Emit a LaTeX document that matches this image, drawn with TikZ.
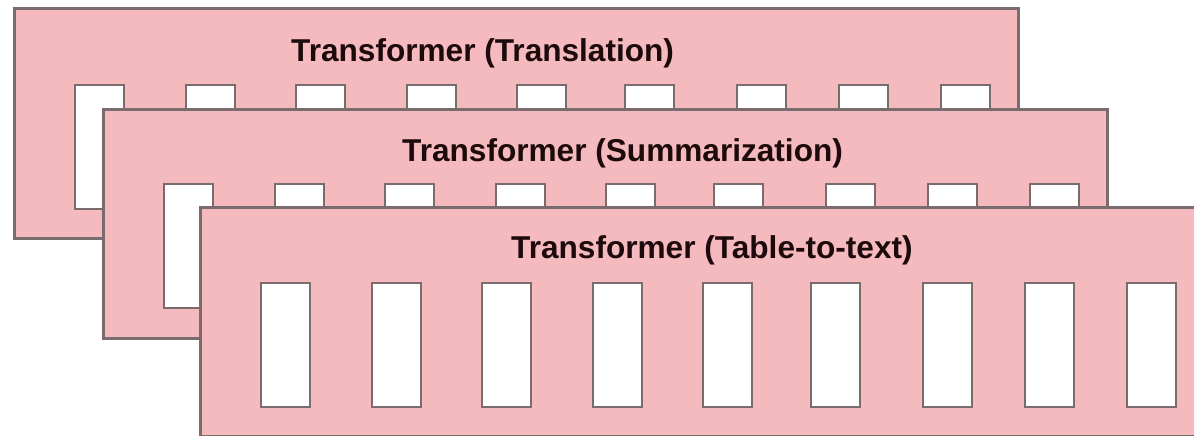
\documentclass[tikz,border=0pt]{standalone}
\usepackage{fontspec}
\setmainfont{Liberation Sans}
\definecolor{panelpink}{RGB}{245,186,189}
\definecolor{edgegray}{RGB}{122,108,110}
\definecolor{inkdark}{RGB}{28,10,12}
\begin{document}
\begin{tikzpicture}[x=1pt,y=-1pt,
  panel/.style={draw=edgegray, line width=3pt, fill=panelpink, anchor=north west,
    minimum width=1004pt, minimum height=229pt, inner sep=0pt, outer sep=0pt},
  slot/.style={draw=edgegray, line width=2.6pt, fill=white, anchor=north west,
    minimum width=49pt, minimum height=124pt, inner sep=0pt, outer sep=0pt},
  title/.style={anchor=base west, inner sep=0pt,
    font=\fontsize{31.6}{32}\selectfont\bfseries, text=inkdark}]
\clip (0,0) rectangle (1194,436);
\fill[white] (0,0) rectangle (1194,436);

% back layer: translation
\node[panel] (p1) at (14,9) {};
\foreach \o [count=\i] in {61,172,282,393,503,611,723,825,927}
  \node[slot] (p1s\i) at ([xshift=\o pt,yshift=-76pt]p1.north west) {};
\node[title] (t1) at (291,62) {Transformer (Translation)};

% middle layer: summarization
\node[panel] (p2) at (103,109) {};
\foreach \o [count=\i] in {61,172,282,393,503,611,723,825,927}
  \node[slot] (p2s\i) at ([xshift=\o pt,yshift=-75pt]p2.north west) {};
\node[title] (t2) at (402,161) {Transformer (Summarization)};

% front layer: table-to-text
\node[panel] (p3) at (200,207) {};
\foreach \o [count=\i] in {61,172,282,393,503,611,723,825,927}
  \node[slot] (p3s\i) at ([xshift=\o pt,yshift=-76pt]p3.north west) {};
\node[title] (t3) at (511,258) {Transformer (Table-to-text)};
\end{tikzpicture}
\end{document}
